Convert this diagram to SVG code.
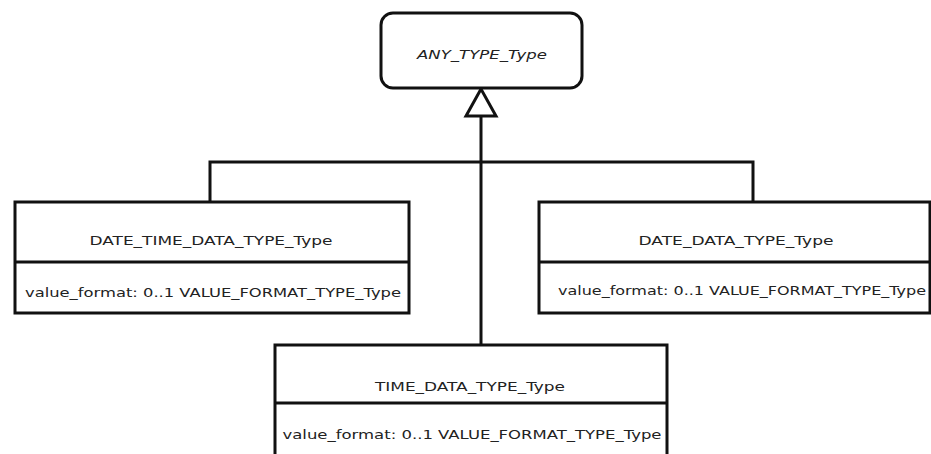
<svg xmlns="http://www.w3.org/2000/svg" width="931" height="454" viewBox="0 0 931 454">
<style>
.box{fill:#fff;stroke:#111;stroke-width:3}
.ln{fill:none;stroke:#111;stroke-width:3}
text{font-family:"DejaVu Sans","Liberation Sans",sans-serif;font-size:13px;fill:#222;text-anchor:middle;dominant-baseline:central}
.it{font-style:italic}
</style>
<rect width="931" height="454" fill="#fff"/>
<g id="connectors">
<path class="ln" d="M481,116 V346"/>
<path class="ln" d="M210,202 V162 H753 V202"/>
<polygon points="481,89 466,116 496,116" fill="#fff" stroke="#111" stroke-width="3"/>
</g>
<g id="any_type">
<rect class="box" x="381" y="13" width="201" height="75" rx="12" stroke-width="2"/>
<text class="it" x="482" y="54" textLength="130" lengthAdjust="spacingAndGlyphs">ANY_TYPE_Type</text>
</g>
<g id="date_time">
<rect class="box" x="15" y="202" width="394" height="111"/>
<line class="ln" x1="15" y1="262" x2="409" y2="262"/>
<text x="211" y="240" textLength="243" lengthAdjust="spacingAndGlyphs">DATE_TIME_DATA_TYPE_Type</text>
<text x="213" y="292" textLength="376" lengthAdjust="spacingAndGlyphs">value_format: 0..1 VALUE_FORMAT_TYPE_Type</text>
</g>
<g id="date">
<rect class="box" x="539" y="202" width="391" height="111"/>
<line class="ln" x1="539" y1="262" x2="930" y2="262"/>
<text x="736" y="240" textLength="195" lengthAdjust="spacingAndGlyphs">DATE_DATA_TYPE_Type</text>
<text x="742" y="290" textLength="368" lengthAdjust="spacingAndGlyphs">value_format: 0..1 VALUE_FORMAT_TYPE_Type</text>
</g>
<g id="time">
<rect class="box" x="275" y="345" width="392" height="120"/>
<line class="ln" x1="275" y1="403" x2="667" y2="403"/>
<text x="470" y="386" textLength="190" lengthAdjust="spacingAndGlyphs">TIME_DATA_TYPE_Type</text>
<text x="472" y="434" textLength="379" lengthAdjust="spacingAndGlyphs">value_format: 0..1 VALUE_FORMAT_TYPE_Type</text>
</g>
</svg>
